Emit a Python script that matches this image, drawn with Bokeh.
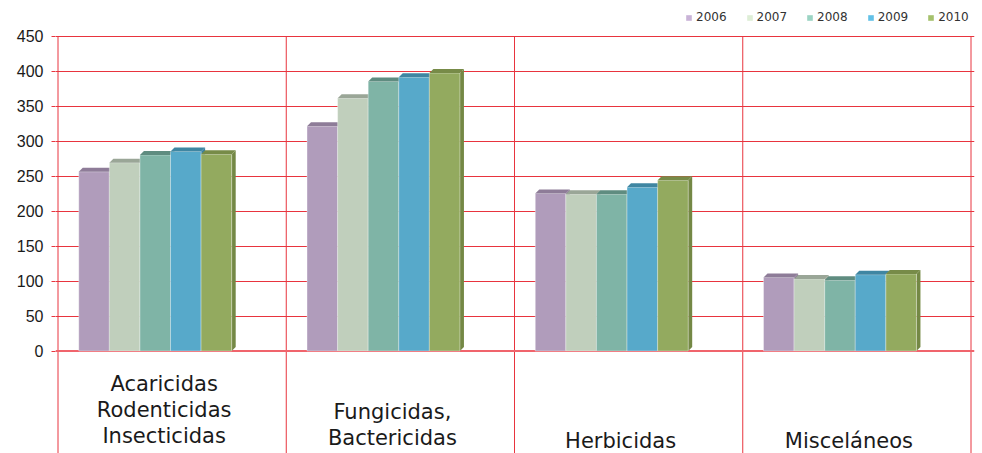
from bokeh.plotting import figure
from bokeh.models import Range1d, FixedTicker, Legend, LegendItem, Span
from bokeh.core.properties import value
from bokeh.embed import file_html
from bokeh.resources import INLINE

# ---- data ----
categories = ["Acaricidas\nRodenticidas\nInsecticidas", "Fungicidas,\nBactericidas", "Herbicidas", "Misceláneos"]
years = ["2006", "2007", "2008", "2009", "2010"]
v2006 = [256, 321, 225, 105]
v2007 = [269, 361, 224, 103]
v2008 = [280, 385, 224, 101]
v2009 = [285, 391, 234, 109]
v2010 = [281, 397, 244, 110]
y_ticks = [0, 50, 100, 150, 200, 250, 300, 350, 400, 450]

series = [v2006, v2007, v2008, v2009, v2010]

# ---- styles ----
front_colors = ["#b09cbb", "#c0cfbc", "#7fb4a6", "#57a9ca", "#93aa5f"]
top_colors = ["#8e7c98", "#9aa697", "#5f8c80", "#3f86a2", "#778b48"]
side_colors = ["#8a7894", "#96a293", "#5b887c", "#3b829e", "#748845"]
legend_colors = ["#c9b3d7", "#deeed6", "#9bd4c3", "#63c1e7", "#a5c16c"]
grid_red = "#e8343e"

W, H = 982, 453
FRAME_L, FRAME_R = 55, 974
PX_X = 228.25     # pixels per category
PX_Y = 0.7        # pixels per unit
ZERO_PX = 350.5   # page y of value 0
X0_PX = 57.5      # page x of category boundary 0
Y_MAX = 450

y_top = ZERO_PX / PX_Y
y_bottom = -(H - ZERO_PX) / PX_Y
x_start = -(X0_PX - FRAME_L) / PX_X
x_end = x_start + (FRAME_R - FRAME_L) / PX_X

p = figure(width=W, height=H,
           x_range=Range1d(x_start, x_end), y_range=Range1d(y_bottom, y_top),
           output_backend="svg", toolbar_location=None, x_axis_location=None,
           min_border_left=FRAME_L, min_border_right=W - FRAME_R,
           min_border_top=0, min_border_bottom=0)
p.outline_line_color = None
p.background_fill_color = "white"
p.xgrid.visible = False
for r in list(p.center):
    if getattr(r, "dimension", None) == 0:
        r.visible = False

# y axis
p.yaxis.ticker = FixedTicker(ticks=y_ticks)
p.yaxis.axis_line_color = None
p.yaxis.major_tick_in = 0
p.yaxis.major_tick_out = 4
p.yaxis.major_tick_line_color = grid_red
p.yaxis.minor_tick_line_color = None
p.yaxis.major_label_text_font = "Liberation Sans"
p.yaxis.major_label_text_font_size = "16px"
p.yaxis.major_label_text_color = "#1a1a1a"
p.yaxis.major_label_standoff = 8
p.ygrid.ticker = FixedTicker(ticks=y_ticks[1:])
p.ygrid.grid_line_color = grid_red
p.ygrid.grid_line_width = 1

# vertical separators
n = len(categories)
bounds = list(range(n + 1))
p.segment(x0=bounds, y0=[y_bottom] * len(bounds), x1=bounds, y1=[Y_MAX] * len(bounds),
          line_color=grid_red, line_width=1, level="underlay")

# zero line
p.add_layout(Span(location=0, dimension="width", line_color="#f0646c", line_width=2, level="underlay"))

# bars with 3D faces
bar_w = 0.134
g_start = 0.091
dx = 4 / PX_X
dy = 4 / PX_Y
for i, vals in enumerate(series):
    lefts = [c + g_start + i * bar_w for c in range(n)]
    rights = [l + bar_w for l in lefts]
    side_xs = [[r, r + dx, r + dx, r] for r in rights]
    side_ys = [[0, dy, v + dy, v] for v in vals]
    p.patches(xs=side_xs, ys=side_ys, fill_color=side_colors[i], line_color=None)
    p.quad(left=lefts, right=rights, bottom=[0] * n, top=vals,
           fill_color=front_colors[i], line_color="#ffffff", line_alpha=0.35, line_width=1)
    top_xs = [[l, r, r + dx, l + dx] for l, r in zip(lefts, rights)]
    top_ys = [[v, v, v + dy, v + dy] for v in vals]
    p.patches(xs=top_xs, ys=top_ys, fill_color=top_colors[i], line_color=None)

# category labels
line_gap = 26
tx, ty, tt = [], [], []
for c, lab in enumerate(categories):
    lines = lab.split("\n")
    m = len(lines)
    last_line = 89.5 - 2.5 * (m - 1)
    for k, s in enumerate(lines):
        off = last_line - (m - 1 - k) * line_gap
        tx.append(c + 0.5 - 8 / PX_X)
        ty.append(-off / PX_Y)
        tt.append(s)
p.text(x=tx, y=ty, text=tt, text_align="center", text_baseline="middle",
       text_font=value("DejaVu Sans"), text_font_size="21px", text_color="#1a1a1a")

# legend
nan = float("nan")
items = []
for i, yr in enumerate(years):
    r = p.vbar(x=[nan], top=[nan], width=0.1, fill_color=legend_colors[i], line_color=None)
    items.append(LegendItem(label=yr, renderers=[r]))
legend = Legend(items=items, orientation="horizontal", location=(630, H - 24),
                glyph_width=7, glyph_height=7, label_height=12, label_standoff=4, spacing=19,
                label_text_font="DejaVu Sans", label_text_font_size="12px", label_text_color="#333333",
                border_line_color=None, background_fill_alpha=0, padding=0, margin=0)
p.add_layout(legend, "center")

open("out.html", "w").write(file_html(p, INLINE))
